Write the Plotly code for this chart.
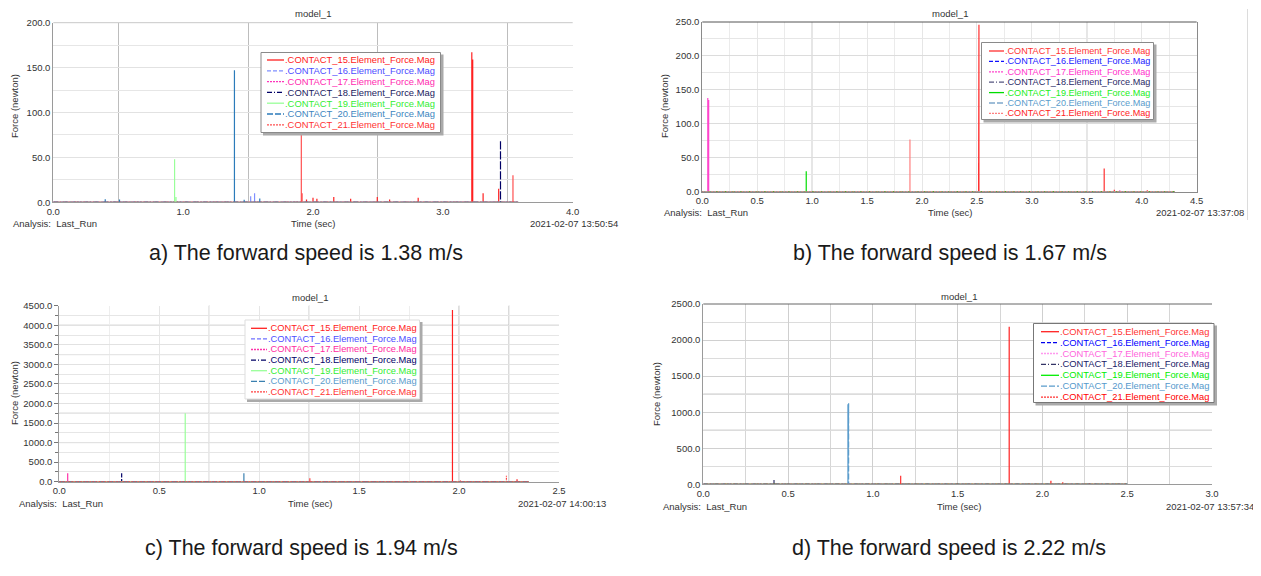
import plotly.graph_objects as go

W, H = 1261, 576          # target window
OFF = 8                   # page body margin of the html page
FW, FH = W - OFF, H - OFF  # figure size so that it fits the window
FONT = "Liberation Sans, Arial, sans-serif"

# ---------------- data ----------------
CONTACT_IDS = [15, 16, 17, 18, 19, 20, 21]
CONTACT_LABELS = [".CONTACT_%d.Element_Force.Mag" % i for i in CONTACT_IDS]

CAPTIONS = ["a) The forward speed is 1.38 m/s", "b) The forward speed is 1.67 m/s",
            "c) The forward speed is 1.94 m/s", "d) The forward speed is 2.22 m/s"]
TIMESTAMPS = ["2021-02-07 13:50:54", "2021-02-07 13:37:08",
              "2021-02-07 14:00:13", "2021-02-07 13:57:34"]
MODEL_TITLE = "model_1"
X_LABEL = "Time (sec)"
Y_LABEL = "Force (newton)"
ANALYSIS = "Analysis:  Last_Run"

# panel a) 1.38 m/s : contact id, time (s), force peak (N)
A_CONTACT = [20, 20, 19, 19, 20, 20, 16, 16, 20, 21, 15, 15, 15, 15, 15, 15, 15, 15, 15, 15, 15, 15, 15, 18, 21]
A_TIME = [0.40, 0.51, 0.934, 0.945, 1.395, 1.47, 1.52, 1.55, 1.59, 1.91, 1.915, 1.95, 2.00, 2.03, 2.16,
          2.29, 2.495, 2.59, 2.81, 3.223, 3.23, 3.31, 3.43, 3.444, 3.54]
A_FORCE = [4, 3, 48, 6, 147, 4, 7, 10, 5, 100, 10, 3, 5, 4, 6, 4, 6, 3, 5, 167, 159, 10, 15, 69, 30]
A_END = 3.58

# panel b) 1.67 m/s
B_CONTACT = [17, 17, 19, 21, 15, 15, 15, 15, 17, 15]
B_TIME = [0.050, 0.058, 0.946, 1.890, 2.515, 2.518, 3.658, 3.75, 3.80, 4.05]
B_FORCE = [138, 135, 30, 77, 42, 246, 34, 3, 2, 2]
B_END = 4.3

# panel c) 1.94 m/s
C_CONTACT = [17, 18, 19, 20, 21, 15, 15, 21, 15]
C_TIME = [0.042, 0.312, 0.630, 0.9235, 1.2535, 1.967, 2.007, 2.237, 2.290]
C_FORCE = [215, 215, 1750, 215, 87, 4390, 30, 153, 60]
C_END = 2.35

# panel d) 2.22 m/s
D_CONTACT = [17, 18, 20, 20, 21, 15, 15, 15, 15]
D_TIME = [0.098, 0.417, 0.853, 0.857, 1.164, 1.804, 2.05, 2.12, 2.28]
D_FORCE = [10, 60, 1110, 1123, 119, 2185, 50, 30, 15]
D_END = 2.5

# ---------------- styles ----------------
DASHES = ["solid", "4px,2px", "2px,1px", "5px,2px,1px,2px", "solid", "6px,2px", "2px,1px"]
LINE_COLORS = [
    ["#ff2020", "#8090ff", "#ff33bb", "#000066", "#99ff99", "#2b7bba", "#ff5050"],
    ["#ff3030", "#1010ff", "#ff44cc", "#555580", "#00dd00", "#7fa8cc", "#ff8080"],
    ["#ff2020", "#7070ff", "#ff33aa", "#000066", "#99ff99", "#3a80b0", "#ff4040"],
    ["#ff2020", "#0000ee", "#ff99ee", "#333366", "#00ee00", "#5a9ccc", "#ff3030"],
]
TEXT_COLORS = [
    ["#ff1a1a", "#4d4dff", "#ff2ab0", "#1a1a5e", "#33ee33", "#3d86c0", "#ff3333"],
    ["#ff3333", "#2222ff", "#ff33cc", "#2a2a66", "#22ee22", "#5a9ccc", "#ff2222"],
    ["#ff2020", "#4d4dff", "#ff2aa0", "#000066", "#33ee33", "#5a9ccc", "#ff3333"],
    ["#ff3333", "#0000ff", "#ff66dd", "#1a1a66", "#00ee00", "#5599cc", "#ff0000"],
]

PANELS = [
    dict(c=A_CONTACT, t=A_TIME, f=A_FORCE, end=A_END, plot=(53.3, 22.7, 572.7, 202.3),
         xr=[0, 4], yr=[0, 200], xdt=1.0, ydt=50, xminor=0.5, yminor=25,
         xgrid=False, xgc="#e4e4e4", xmc="#bdbdbd", ygc="#e2e2e2", ymc="#e6e6e6",
         xdark=[], ydark=[], axis="#9a9a9a", top="#c8c8c8", mirror_y=False, yticks="",
         title=(313, 14), xlab=(313, 224), ylab=(14, 106), analysis=(12, 224), stamp=(529, 224, "left"),
         caption=(306, 253),
         legend=dict(box=(261, 52.5, 440.5, 132.5), y0=60, dy=10.8, s=(267, 284), fs=9.4, border="#8a8a8a")),
    dict(c=B_CONTACT, t=B_TIME, f=B_FORCE, end=B_END, plot=(702.3, 22, 1196.7, 191.7),
         xr=[0, 4.5], yr=[0, 250], xdt=0.5, ydt=50, xminor=0.25, yminor=25,
         xgrid=True, xgc="#e6e6e6", xmc="#ebebeb", ygc="#dcdcdc", ymc="#e6e6e6",
         xdark=[1.0, 2.25, 3.5], ydark=[], axis="#8a8a8a", top="#555555", mirror_y=True, yticks="",
         title=(950, 14), xlab=(950.5, 212.7), ylab=(664, 106), analysis=(662.7, 212.7),
         stamp=(1155, 212.7, "left"), caption=(950, 253),
         legend=dict(box=(981.5, 42.5, 1153.5, 119.5), y0=51, dy=10.4, s=(989, 1004), fs=9.1, border="#8a8a8a")),
    dict(c=C_CONTACT, t=C_TIME, f=C_FORCE, end=C_END, plot=(59.3, 305.7, 559, 481.7),
         xr=[0, 2.5], yr=[0, 4500], xdt=0.5, ydt=500, xminor=0.25, yminor=250,
         xgrid=True, xgc="#e6e6e6", xmc="#eeeeee", ygc="#e2e2e2", ymc="#e6e6e6",
         xdark=[0.75, 1.25, 2.0, 2.25], ydark=[1000, 1750, 3250, 4000], axis="#9a9a9a", top=None,
         mirror_y=False, yticks="outside",
         title=(310, 297.3), xlab=(310, 503.3), ylab=(14, 393), analysis=(18, 503.3),
         stamp=(516.7, 503.3, "left"), caption=(301, 548),
         legend=dict(box=(245, 320, 419.5, 399), y0=328.3, dy=10.6, s=(251, 267), fs=9.3, border="#dddddd")),
    dict(c=D_CONTACT, t=D_TIME, f=D_FORCE, end=D_END, plot=(703.3, 304, 1212, 484.3),
         xr=[0, 3], yr=[0, 2500], xdt=0.5, ydt=500, xminor=0.25, yminor=250,
         xgrid=True, xgc="#cfcfcf", xmc="#d6d6d6", ygc="#d0d0d0", ymc="#dcdcdc",
         xdark=[], ydark=[750, 1250], axis="#9a9a9a", top="#666666", mirror_y=False, yticks="",
         title=(959, 296), xlab=(959.7, 506), ylab=(656, 394), analysis=(661.7, 506),
         stamp=(1255, 506, "right"), caption=(948.5, 548),
         legend=dict(box=(1033.5, 323.5, 1214, 402.5), y0=331.7, dy=10.9, s=(1041, 1059), fs=9.35, border="#777777")),
]


def px(x):
    return (x - OFF) / FW


def py(y):
    return 1 - (y - OFF) / FH


def spike_series(contact, cs, ts, fs, end):
    pts = sorted((t, f) for c, t, f in zip(cs, ts, fs) if c == contact)
    x, y = [0.0], [0.0]
    for t, f in pts:
        x += [t, t, t]
        y += [0, f, 0]
    x.append(end)
    y.append(0)
    return x, y


fig = go.Figure()
shapes = []
annotations = []
TICKFONT = dict(family=FONT, size=9.5, color="#333333")
SMALL = dict(family=FONT, size=9.5, color="#333333")

for i, P in enumerate(PANELS):
    sfx = "" if i == 0 else str(i + 1)
    xa, ya = "x" + sfx, "y" + sfx
    l, t, r, b = P["plot"]

    # traces
    for k, cid in enumerate(CONTACT_IDS):
        x, y = spike_series(cid, P["c"], P["t"], P["f"], P["end"])
        fig.add_trace(go.Scatter(x=x, y=y, mode="lines", xaxis=xa, yaxis=ya, showlegend=False,
                                 hoverinfo="skip",
                                 line=dict(color=LINE_COLORS[i][k], width=1.2, dash=DASHES[k])))

    fig.update_layout(**{
        "xaxis" + sfx: dict(domain=[px(l), px(r)], anchor=ya, range=P["xr"], tick0=0, dtick=P["xdt"],
                            tickformat=".1f", showgrid=P["xgrid"], gridcolor=P["xgc"], gridwidth=1,
                            minor=dict(dtick=P["xminor"], tick0=0, showgrid=True, gridcolor=P["xmc"]),
                            showline=True, linecolor=P["axis"], linewidth=1, mirror=False,
                            zeroline=False, ticks="", tickfont=TICKFONT, fixedrange=True,
                            automargin=False),
        "yaxis" + sfx: dict(domain=[py(b), py(t)], anchor=xa, range=P["yr"], tick0=0, dtick=P["ydt"],
                            tickformat=".1f", showgrid=True, gridcolor=P["ygc"], gridwidth=1,
                            minor=dict(dtick=P["yminor"], tick0=0, showgrid=True, gridcolor=P["ymc"],
                                       ticks=P["yticks"], ticklen=3, tickcolor="#777777"),
                            showline=True, linecolor=P["axis"], linewidth=1, mirror=P["mirror_y"],
                            zeroline=False, ticks=P["yticks"], ticklen=4, tickcolor="#777777",
                            tickfont=TICKFONT, fixedrange=True, automargin=False),
    })

    # top border line
    if P["top"]:
        shapes.append(dict(type="line", xref="paper", yref="paper", x0=px(l), x1=px(r), y0=py(t), y1=py(t),
                           line=dict(color=P["top"], width=1), layer="above"))
    # darker grid lines
    for gx in P["xdark"]:
        shapes.append(dict(type="line", xref=xa, yref=ya + " domain", x0=gx, x1=gx, y0=0, y1=1,
                           line=dict(color="#b5b5b5", width=1), layer="below"))
    for gy in P["ydark"]:
        shapes.append(dict(type="line", xref=xa + " domain", yref=ya, x0=0, x1=1, y0=gy, y1=gy,
                           line=dict(color="#b5b5b5", width=1), layer="below"))

    # texts
    annotations += [
        dict(text=MODEL_TITLE, x=px(P["title"][0]), y=py(P["title"][1]), xanchor="center", yanchor="middle"),
        dict(text=X_LABEL, x=px(P["xlab"][0]), y=py(P["xlab"][1]), xanchor="center", yanchor="middle"),
        dict(text=Y_LABEL, x=px(P["ylab"][0]), y=py(P["ylab"][1]), xanchor="center", yanchor="middle",
             textangle=-90),
        dict(text=ANALYSIS, x=px(P["analysis"][0]), y=py(P["analysis"][1]), xanchor="left", yanchor="middle"),
        dict(text=TIMESTAMPS[i], x=px(P["stamp"][0]), y=py(P["stamp"][1]), xanchor=P["stamp"][2],
             yanchor="middle"),
    ]
    annotations.append(dict(text=CAPTIONS[i], x=px(P["caption"][0]), y=py(P["caption"][1]),
                            xanchor="center", yanchor="middle",
                            font=dict(family=FONT, size=21.5, color="#1a1a1a")))

    # legend box
    L = P["legend"]
    bl, bt, br, bb = L["box"]
    shapes.append(dict(type="rect", xref="paper", yref="paper", x0=px(bl + 2), x1=px(br + 3),
                       y0=py(bb + 3), y1=py(bt + 2), fillcolor="#aaaaaa", line=dict(width=0), layer="above"))
    shapes.append(dict(type="rect", xref="paper", yref="paper", x0=px(bl), x1=px(br), y0=py(bb), y1=py(bt),
                       fillcolor="white", line=dict(color=L["border"], width=1), layer="above"))
    for k, label in enumerate(CONTACT_LABELS):
        ey = L["y0"] + k * L["dy"]
        shapes.append(dict(type="line", xref="paper", yref="paper", x0=px(L["s"][0]), x1=px(L["s"][1]),
                           y0=py(ey), y1=py(ey), layer="above",
                           line=dict(color=LINE_COLORS[i][k], width=1.3, dash=DASHES[k])))
        annotations.append(dict(text=label, x=px(L["s"][1]), y=py(ey), xanchor="left", yanchor="middle",
                                font=dict(family=FONT, size=L["fs"], color=TEXT_COLORS[i][k])))

# page edge line in panel b screenshot
shapes.append(dict(type="line", xref="paper", yref="paper", x0=px(1247.5), x1=px(1247.5), y0=py(9), y1=py(220),
                   line=dict(color="#dcdcdc", width=1)))

for a in annotations:
    a.setdefault("xref", "paper")
    a.setdefault("yref", "paper")
    a.setdefault("showarrow", False)
    a.setdefault("font", SMALL)
    a.setdefault("borderpad", 0)

fig.update_layout(width=FW, height=FH, margin=dict(l=0, r=0, t=0, b=0, autoexpand=False),
                  paper_bgcolor="white", plot_bgcolor="white", showlegend=False, shapes=shapes,
                  annotations=annotations, font=dict(family=FONT, size=9.5, color="#333333"))

fig.write_html("out.html")
